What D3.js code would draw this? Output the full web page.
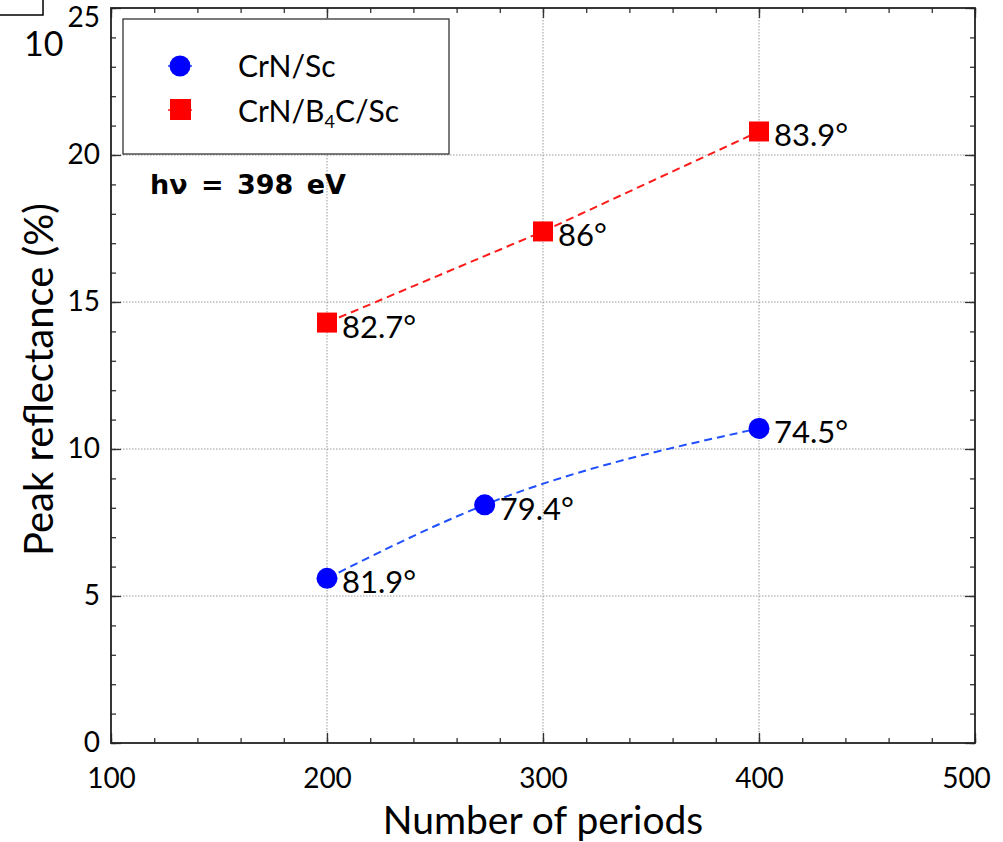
<!DOCTYPE html>
<html>
<head>
<meta charset="utf-8">
<script src="https://cdn.jsdelivr.net/npm/d3@7"></script>
<style>
  body { margin: 0; background: #fff; }
  text { font-family: Lato, "DejaVu Sans", sans-serif; fill: #000; }
</style>
</head>
<body>
<script>
// data
const crnScPeriods = [200, 273, 400]
const crnScRefl = [5.6, 8.1, 10.7]
const crnScAngles = ['81.9°', '79.4°', '74.5°']

const crnB4cPeriods = [200, 300, 400]
const crnB4cRefl = [14.3, 17.4, 20.8]
const crnB4cAngles = ['82.7°', '86°', '83.9°']

const xTicks = [100, 200, 300, 400, 500]
const yTicks = [0, 5, 10, 15, 20, 25]

const W = 1003, H = 842
const pLeft = 111, pRight = 975, pTop = 8, pBottom = 743

const svg = d3.select('body').append('svg')
  .attr('width', W).attr('height', H)

const x = d3.scaleLinear().domain([100, 500]).range([pLeft, pRight])
const y = d3.scaleLinear().domain([0, 25]).range([pBottom, pTop])

// stray bits at top-left of the original figure
svg.append('rect').attr('x', -5).attr('y', -5).attr('width', 48).attr('height', 20)
  .attr('fill', 'none').attr('stroke', '#000').attr('stroke-width', 1.5)
svg.append('text').attr('x', 24).attr('y', 56).attr('font-size', 34).text('10')

// grid
const grid = svg.append('g').attr('stroke', '#999').attr('stroke-width', 1)
  .attr('stroke-dasharray', '1.5,1.5')
grid.selectAll('.gx').data(xTicks.slice(1, -1)).join('line')
  .attr('x1', d => x(d)).attr('x2', d => x(d)).attr('y1', pTop).attr('y2', pBottom)
grid.selectAll('.gy').data(yTicks.slice(1, -1)).join('line')
  .attr('x1', pLeft).attr('x2', pRight).attr('y1', d => y(d)).attr('y2', d => y(d))

// axes with inward ticks on all sides
const xMinor = d3.range(100, 501, 20)
const yMinor = d3.range(0, 26, 1)
function tickAxis(axis, minor, major, transform, labels) {
  const g = svg.append('g').attr('transform', transform)
  g.call(axis(minor).tickSize(-5).tickFormat(''))
  g.append('g').call(axis(major).tickSize(-10)
    .tickFormat(labels ? d3.format('d') : ''))
  g.selectAll('.domain').remove()
  g.selectAll('line').attr('stroke', '#333').attr('stroke-width', 1.3)
  g.selectAll('text').attr('font-size', 28)
  return g
}
const xb = tickAxis(s => d3.axisBottom(x).tickValues(s), xMinor, xTicks, `translate(0,${pBottom})`, true)
xb.selectAll('text').attr('dy', '1.2em')
  .attr('transform', d => d === 500 ? 'translate(-9,8)' : 'translate(0,8)')
tickAxis(s => d3.axisTop(x).tickValues(s), xMinor, xTicks, `translate(0,${pTop})`, false)
const yl = tickAxis(s => d3.axisLeft(y).tickValues(s), yMinor, yTicks, `translate(${pLeft},0)`, true)
yl.selectAll('text').attr('x', -11)
  .attr('transform', d => d === 25 ? 'translate(0,10)' : null)
tickAxis(s => d3.axisRight(y).tickValues(s), yMinor, yTicks, `translate(${pRight},0)`, false)

svg.append('rect').attr('x', pLeft).attr('y', pTop)
  .attr('width', pRight - pLeft).attr('height', pBottom - pTop)
  .attr('fill', 'none').attr('stroke', '#222').attr('stroke-width', 1.8)

// series
const blue = crnScPeriods.map((p, i) => ({ x: p, y: crnScRefl[i], a: crnScAngles[i] }))
const red = crnB4cPeriods.map((p, i) => ({ x: p, y: crnB4cRefl[i], a: crnB4cAngles[i] }))

svg.append('path').datum(blue)
  .attr('d', d3.line().x(d => x(d.x)).y(d => y(d.y)).curve(d3.curveMonotoneX))
  .attr('fill', 'none').attr('stroke', '#1f4fff').attr('stroke-width', 2)
  .attr('stroke-dasharray', '8,5')
svg.append('path').datum(red)
  .attr('d', d3.line().x(d => x(d.x)).y(d => y(d.y)))
  .attr('fill', 'none').attr('stroke', '#ff1a1a').attr('stroke-width', 2)
  .attr('stroke-dasharray', '8,5')

svg.selectAll('.dot').data(blue).join('circle')
  .attr('cx', d => x(d.x)).attr('cy', d => y(d.y)).attr('r', 10.5).attr('fill', '#0000ff')
svg.selectAll('.sq').data(red).join('rect')
  .attr('x', d => x(d.x) - 10).attr('y', d => y(d.y) - 10)
  .attr('width', 20).attr('height', 20).attr('fill', '#ff0000')

svg.selectAll('.lb').data(blue.concat(red)).join('text')
  .attr('x', d => x(d.x) + 15).attr('y', d => y(d.y) + 15)
  .attr('font-size', 31).text(d => d.a)

// legend
const lg = svg.append('g')
lg.append('rect').attr('x', 123).attr('y', 19).attr('width', 326).attr('height', 135)
  .attr('fill', '#fff').attr('stroke', '#333').attr('stroke-width', 1.3)
lg.append('line').attr('x1', 168).attr('x2', 192).attr('y1', 66).attr('y2', 66)
  .attr('stroke', '#1f4fff').attr('stroke-width', 1.5)
lg.append('circle').attr('cx', 180).attr('cy', 66).attr('r', 10.5).attr('fill', '#0000ff')
lg.append('line').attr('x1', 168).attr('x2', 192).attr('y1', 110).attr('y2', 110)
  .attr('stroke', '#ff1a1a').attr('stroke-width', 1.5)
lg.append('rect').attr('x', 170).attr('y', 99).attr('width', 21).attr('height', 21).attr('fill', '#ff0000')
lg.append('text').attr('x', 238).attr('y', 77).attr('font-size', 30).text('CrN/Sc')
const t2 = lg.append('text').attr('x', 238).attr('y', 122).attr('font-size', 30)
t2.append('tspan').text('CrN/B')
t2.append('tspan').attr('font-size', 18).attr('dy', 6).text('4')
t2.append('tspan').attr('dy', -6).text('C/Sc')

svg.append('text').attr('x', 150).attr('y', 194).attr('font-size', 27)
  .style('font-family', '"DejaVu Sans", sans-serif').style('word-spacing', '4px')
  .attr('font-weight', 'bold')
  .text('hν = 398 eV')

// axis titles
svg.append('text').attr('x', (pLeft + pRight) / 2).attr('y', 834).attr('text-anchor', 'middle')
  .attr('font-size', 39).text('Number of periods')
svg.append('text').attr('transform', `translate(53,${(pTop + pBottom) / 2 + 4}) rotate(-90)`)
  .attr('text-anchor', 'middle').attr('font-size', 40).text('Peak reflectance (%)')
</script>
</body>
</html>
